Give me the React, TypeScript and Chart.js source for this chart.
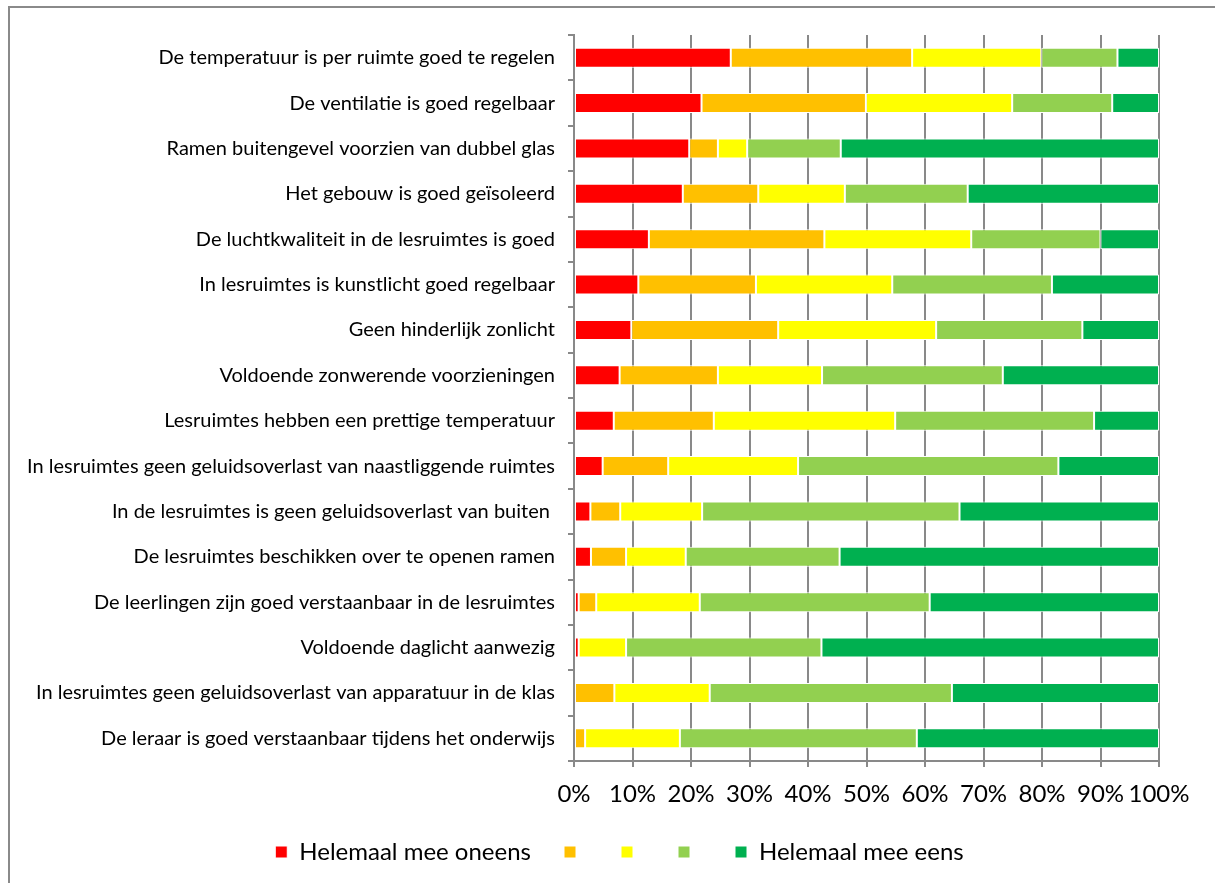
import React, { useEffect, useRef } from "react";
import { Chart, registerables } from "chart.js";

Chart.register(...registerables);

const categories = [
  "De temperatuur is per ruimte goed te regelen",
  "De ventilatie is goed regelbaar",
  "Ramen buitengevel voorzien van dubbel glas",
  "Het gebouw is goed geïsoleerd",
  "De luchtkwaliteit in de lesruimtes is goed",
  "In lesruimtes is kunstlicht goed regelbaar",
  "Geen hinderlijk zonlicht",
  "Voldoende zonwerende voorzieningen",
  "Lesruimtes hebben een prettige temperatuur",
  "In lesruimtes geen geluidsoverlast van naastliggende ruimtes",
  "In de lesruimtes is geen geluidsoverlast van buiten ",
  "De lesruimtes beschikken over te openen ramen",
  "De leerlingen zijn goed verstaanbaar in de lesruimtes",
  "Voldoende daglicht aanwezig",
  "In lesruimtes geen geluidsoverlast van apparatuur in de klas",
  "De leraar is goed verstaanbaar tijdens het onderwijs",
];

const seriesLabels = ["Helemaal mee oneens", "", "", "", "Helemaal mee eens"];

const stronglyDisagree = [26.8, 21.8, 19.7, 18.6, 12.8, 11.0, 9.8, 7.8, 6.8, 4.9, 2.8, 2.9, 0.8, 0.8, 0, 0];
const disagree = [31.0, 28.1, 4.9, 12.9, 30.0, 20.1, 25.1, 16.8, 17.1, 11.2, 5.1, 6.0, 3.0, 0, 6.9, 1.9];
const neutral = [22.1, 25.0, 5.0, 14.8, 25.1, 23.3, 27.0, 17.8, 31.0, 22.2, 14.0, 10.2, 17.7, 8.1, 16.3, 16.2];
const agree = [13.0, 17.1, 16.0, 21.0, 22.1, 27.3, 25.0, 30.9, 34.0, 44.5, 44.0, 26.3, 39.3, 33.4, 41.4, 40.5];
const stronglyAgree = [7.1, 8.0, 54.4, 32.7, 10.0, 18.3, 13.1, 26.7, 11.1, 17.2, 34.1, 54.6, 39.2, 57.7, 35.4, 41.4];

const xMin = 0;
const xMax = 100;
const xStep = 10;

const colors = ["#FF0000", "#FFC000", "#FFFF00", "#92D050", "#00B050"];

const FONT = "Lato, 'Open Sans', sans-serif";
const GRID = "#898989";

// shifts the legend block to the right, as in the original layout
const legendShift = {
  id: "legendShift",
  afterLayout(chart: any) {
    if (chart.legend) {
      chart.legend.left += 40;
      chart.legend.right += 40;
    }
  },
};

export default function App() {
  const ref = useRef<HTMLCanvasElement | null>(null);

  useEffect(() => {
    if (!ref.current) return;
    const values = [stronglyDisagree, disagree, neutral, agree, stronglyAgree];
    const chart = new Chart(ref.current, {
      type: "bar",
      data: {
        labels: categories,
        datasets: values.map((v, i) => ({
          label: seriesLabels[i],
          data: v,
          backgroundColor: colors[i],
          borderColor: "#ffffff",
          borderWidth: 1,
          borderSkipped: false,
          barPercentage: 0.44,
          categoryPercentage: 1,
        })),
      },
      plugins: [legendShift],
      options: {
        indexAxis: "y",
        animation: false,
        responsive: false,
        devicePixelRatio: 1,
        layout: { padding: { left: 0, right: 56, top: 35, bottom: 9 } },
        plugins: {
          tooltip: { enabled: false },
          title: { display: false },
          legend: {
            position: "bottom",
            labels: {
              color: "#000",
              font: { family: FONT, size: 24 },
              boxWidth: 12,
              boxHeight: 12,
              padding: 33,
            },
          },
        },
        scales: {
          x: {
            type: "linear",
            stacked: true,
            min: xMin,
            max: xMax,
            afterFit: (scale: any) => {
              scale.height = 46;
            },
            ticks: {
              stepSize: xStep,
              color: "#000",
              font: { family: FONT, size: 24 },
              padding: 13,
              maxRotation: 0,
              autoSkip: false,
              callback: (v: any) => v + "%",
            },
            grid: { display: true, drawOnChartArea: true, color: GRID, lineWidth: 2, tickLength: 6, drawTicks: true },
            border: { display: true, color: GRID, width: 2 },
          },
          y: {
            stacked: true,
            afterFit: (scale: any) => {
              scale.width = 574;
            },
            ticks: {
              color: "#000",
              font: { family: FONT, size: 20 },
              padding: 13,
              autoSkip: false,
            },
            grid: { offset: true, drawOnChartArea: false, color: GRID, lineWidth: 2, tickLength: 6 },
            border: { color: GRID, width: 2 },
          },
        },
      },
    });
    return () => chart.destroy();
  }, []);

  return (
    <div style={{ position: "fixed", left: 0, top: 0, width: 1215, height: 883, overflow: "hidden", background: "#fff" }}>
      <div
        style={{
          position: "absolute",
          left: 8,
          top: 6,
          width: 1300,
          height: 1000,
          border: "2px solid #8a8a8a",
        }}
      />
      <canvas ref={ref} width={1215} height={883} style={{ position: "absolute", left: 0, top: 0 }} />
    </div>
  );
}
